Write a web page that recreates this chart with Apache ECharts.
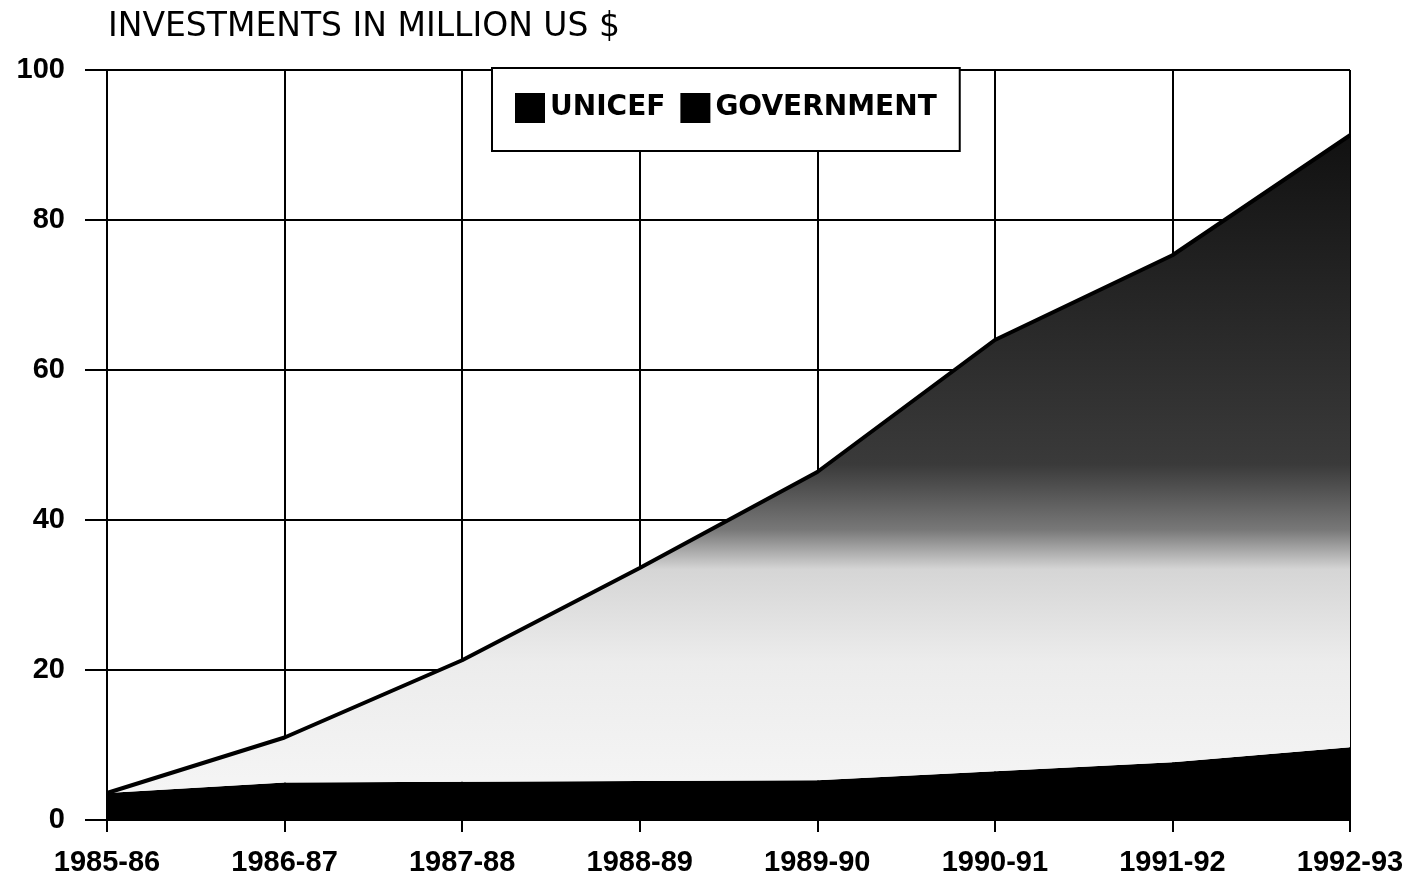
<!DOCTYPE html>
<html>
<head>
<meta charset="utf-8">
<script src="https://cdn.jsdelivr.net/npm/echarts@6/dist/echarts.min.js"></script>
<style>
  html, body { margin: 0; padding: 0; background: #fff; }
  #chart { width: 1415px; height: 880px; }
</style>
</head>
<body>
<div id="chart"></div>
<script>
// years on the x axis
var years = ['1985-86', '1986-87', '1987-88', '1988-89', '1989-90', '1990-91', '1991-92', '1992-93'];
// million US $
var unicef = [3.6, 5.0, 5.1, 5.2, 5.3, 6.5, 7.7, 9.7];
var government = [0, 6.0, 16.2, 28.4, 41.1, 57.5, 67.6, 81.6];
var yTicks = [0, 20, 40, 60, 80, 100];

var myChart = echarts.init(document.getElementById('chart'));
var font = '"Liberation Sans", Arial, sans-serif';

var option = {
  animation: false,
  backgroundColor: '#fff',
  title: {
    text: 'INVESTMENTS IN MILLION US $',
    left: 103,
    top: 6,
    textStyle: { fontFamily: '"DejaVu Sans", sans-serif', fontSize: 33, fontWeight: 'normal', color: '#000' }
  },
  legend: {
    left: 492,
    top: 68,
    padding: [25, 23, 28, 23],
    itemWidth: 30,
    itemHeight: 30,
    itemGap: 15,
    borderColor: '#000',
    borderWidth: 2,
    backgroundColor: '#fff',
    icon: 'rect',
    textStyle: { fontFamily: '"DejaVu Sans", sans-serif', fontSize: 28, fontWeight: 'bold', color: '#000' },
    data: [
      { name: 'UNICEF', itemStyle: { color: '#000' } },
      { name: 'GOVERNMENT', itemStyle: { color: '#000' } }
    ]
  },
  grid: { left: 107, right: 65, top: 70, bottom: 60 },
  xAxis: {
    type: 'category',
    data: years,
    boundaryGap: false,
    axisLine: { lineStyle: { color: '#000', width: 2 } },
    axisTick: { show: true, length: 12, lineStyle: { color: '#000', width: 2 } },
    axisLabel: { margin: 28, fontFamily: font, fontSize: 29, fontWeight: 'bold', color: '#000' },
    splitLine: { show: true, lineStyle: { color: '#000', width: 2 } }
  },
  yAxis: {
    type: 'value',
    min: 0,
    max: 100,
    interval: 20,
    axisLine: { show: true, lineStyle: { color: '#000', width: 2 } },
    axisTick: { show: true, length: 22, lineStyle: { color: '#000', width: 2 } },
    axisLabel: {
      margin: 42, fontFamily: font, fontSize: 29, fontWeight: 'bold', color: '#000',
      formatter: function (v) { return yTicks.indexOf(v) >= 0 ? String(v) : ''; }
    },
    splitLine: { show: true, lineStyle: { color: '#000', width: 2 } }
  },
  series: [
    {
      name: 'UNICEF',
      type: 'line',
      stack: 'total',
      data: unicef,
      symbol: 'none',
      lineStyle: { width: 0 },
      itemStyle: { color: '#000' },
      areaStyle: { color: '#000', opacity: 1 }
    },
    {
      name: 'GOVERNMENT',
      type: 'line',
      stack: 'total',
      data: government,
      symbol: 'none',
      lineStyle: { width: 4, color: '#000' },
      itemStyle: { color: '#444' },
      areaStyle: {
        opacity: 1,
        color: new echarts.graphic.LinearGradient(0, 0, 0, 1, [
          { offset: 0, color: '#111' },
          { offset: 0.5, color: '#3a3a3a' },
          { offset: 0.6, color: '#787878' },
          { offset: 0.66, color: '#d5d5d5' },
          { offset: 0.8, color: '#ececec' },
          { offset: 1, color: '#f5f5f5' }
        ])
      }
    }
  ]
};

myChart.setOption(option);
</script>
</body>
</html>
